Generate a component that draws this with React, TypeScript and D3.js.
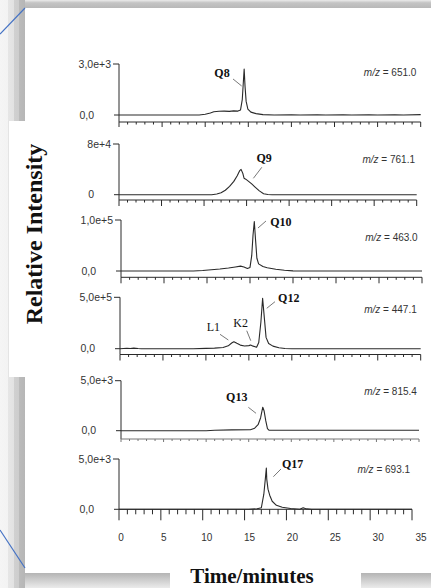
import React from "react";
import * as d3 from "d3";

// chromatogram traces: [time (min), intensity]
const q8Trace = [
  [0, 0], [9.3, 0], [10.0, 40], [10.6, 120], [11.0, 190], [11.6, 220], [12.2, 230], [12.8, 215],
  [13.3, 240], [13.8, 230], [14.1, 300], [14.3, 900], [14.42, 1900], [14.52, 2700], [14.62, 1700],
  [14.75, 800], [14.95, 350], [15.3, 170], [15.9, 80], [16.7, 20], [18, 0], [20, 15], [21, 0],
  [23, 15], [24, 0], [26, 15], [27, 0], [29, 15], [30, 0], [32, 15], [33, 0], [35, 20],
];
const q9Trace = [
  [0, 0], [10.9, 0], [11.5, 1000], [12.0, 3000], [12.5, 7000], [13.0, 13000], [13.5, 21000],
  [13.9, 30000], [14.2, 38000], [14.35, 40000], [14.55, 34000], [14.7, 26000], [14.9, 24500],
  [15.2, 21500], [15.6, 17000], [16.0, 12000], [16.5, 6000], [17.0, 1500], [17.5, 300], [18, 0], [35, 0],
];
const q10Trace = [
  [0, 0], [8.4, 0], [9.5, 1000], [10.5, 2500], [11.5, 4000], [12.5, 6000], [13.3, 8000],
  [13.9, 9500], [14.3, 8000], [14.7, 5000], [15.0, 7000], [15.2, 30000], [15.35, 70000],
  [15.5, 97000], [15.65, 60000], [15.8, 25000], [16.0, 14000], [16.5, 9000], [17.0, 6500],
  [18.0, 3500], [19.0, 1500], [20.0, 300], [21, 0], [35, 0],
];
const q12Trace = [
  [0, 0], [0.8, 5000], [1.2, 2000], [1.6, 6000], [2.1, 2000], [2.5, 0], [8.5, 0], [10, 3000],
  [11, 6000], [12, 12000], [12.6, 28000], [13.0, 55000], [13.25, 68000], [13.6, 52000],
  [14.0, 35000], [14.5, 26000], [15.0, 30000], [15.2, 36000], [15.5, 25000], [15.9, 15000],
  [16.15, 60000], [16.4, 260000], [16.6, 490000], [16.8, 300000], [17.0, 110000], [17.3, 50000],
  [17.8, 25000], [18.5, 10000], [19.2, 2000], [20, 0], [35, 0],
];
const q13Trace = [
  [0, 0], [10, 0], [11, 50], [13, 80], [15.2, 100], [15.7, 250], [16.1, 600], [16.4, 1300],
  [16.65, 2350], [16.8, 2000], [17.0, 1000], [17.2, 200], [17.4, 40], [35, 40],
];
const q17Trace = [
  [0, 0], [15.5, 0], [16.5, 50], [17.0, 150], [17.3, 1500], [17.5, 3200], [17.6, 4100],
  [17.65, 3000], [17.8, 2000], [18.0, 1400], [18.3, 800], [18.8, 400], [19.5, 200], [20.5, 80],
  [21.6, 0], [22.0, 150], [22.4, 40], [23, 0], [35, 0],
];

const traces = [q8Trace, q9Trace, q10Trace, q12Trace, q13Trace, q17Trace];
const yMaxes = [3000, 80000, 100000, 500000, 5000, 5000];
const topLabels = ["3,0e+3", "8e+4", "1,0e+5", "5,0e+5", "5,0e+3", "5,0e+3"];
const zeroLabels = ["0,0", "0", "0,0", "0,0", "0,0", "0,0"];
const mzValues = ["651.0", "761.1", "463.0", "447.1", "815.4", "693.1"];
// label anchor in data units: [time, intensity]
const mzAnchors = [[34.5, 2294], [34.8, 50020], [34.5, 58820], [34.54, 347280], [34.75, 3570], [34.77, 3560]];

// peak annotations: text, position, leader line start/end (data units)
const peakNotes = [
  [{ text: "Q8", bold: true, at: [11.95, 2235], from: [13.23, 2118], to: [14.23, 1706] }],
  [{ text: "Q9", bold: true, at: [17.06, 51600], from: [16.79, 43230], to: [15.8, 25880] }],
  [{ text: "Q10", bold: true, at: [18.6, 88240], from: [16.86, 98040], to: [15.93, 84310] }],
  [
    { text: "L1", bold: false, at: [10.86, 172200], from: [11.64, 140080], to: [12.61, 84630] },
    { text: "K2", bold: false, at: [14.05, 211090], from: [14.75, 175100], to: [15.22, 77820] },
    { text: "Q12", bold: true, at: [19.64, 459140], from: [18.04, 457200], to: [17.08, 393000] },
  ],
  [{ text: "Q13", bold: true, at: [13.6, 2970], from: [14.96, 2340], to: [15.86, 1740] }],
  [{ text: "Q17", bold: true, at: [20.75, 4155], from: [18.44, 3240], to: [19.35, 4006] }],
];

const timeTicks = [0, 5, 10, 15, 20, 25, 30, 35];

// pasted panels, each with its own placement
const boxes = [
  { top: 64, zero: 115, axis: 122, x0: 119, x1: 420.7, major: 5, minor: 2.5 },
  { top: 144, zero: 194.7, axis: 200, x0: 119, x1: 416.7, major: 6, minor: 2.5 },
  { top: 220, zero: 271, axis: 277.3, x0: 121, x1: 422, major: 6, minor: 2.5 },
  { top: 297.3, zero: 348.7, axis: 354.5, x0: 120, x1: 420.7, major: 6, minor: 2.5 },
  { top: 380.7, zero: 430.7, axis: 439, x0: 121, x1: 419, major: 3, minor: 2 },
  { top: 459, zero: 509.3, axis: 509.3, x0: 119, x1: 412, major: 11, minor: 5 },
];

const sans = "'Liberation Sans', Arial, sans-serif";
const serif = "'Liberation Serif', 'Times New Roman', serif";
const ink = "#2a2a2a";

function Panel({ i }: { i: number }) {
  const b = boxes[i];
  const x = d3.scaleLinear().domain([0, 35]).range([b.x0, b.x1]);
  const y = d3.scaleLinear().domain([0, yMaxes[i]]).range([b.zero, b.top]);
  const line = d3.line<number[]>().x((d) => x(d[0])).y((d) => y(d[1]));
  const minutes = d3.range(0, 36);
  const axisColor = i === 4 ? "#777" : ink;
  return (
    <g>
      <line x1={b.x0} x2={b.x0} y1={b.top} y2={b.axis} stroke={ink} />
      <line x1={b.x0 - 6} x2={b.x0} y1={b.top} y2={b.top} stroke={ink} />
      <line x1={b.x0 - 5} x2={b.x0} y1={b.zero} y2={b.zero} stroke={ink} />
      <line x1={b.x0} x2={b.x1} y1={b.axis} y2={b.axis} stroke={axisColor} />
      {minutes.map((t) => (
        <line key={t} x1={x(t)} x2={x(t)} y1={b.axis} y2={b.axis + (t % 5 === 0 ? b.major : b.minor)} stroke={axisColor} />
      ))}
      <text x={b.x0 - 8} y={b.top + 3.5} textAnchor="end" fontFamily={sans} fontSize={10.5} fill="#333">{topLabels[i]}</text>
      <text x={b.x0 - 25} y={b.zero + 3.5} textAnchor="end" fontFamily={sans} fontSize={10.5} fill="#333">{zeroLabels[i]}</text>
      <path d={line(traces[i]) || ""} fill="none" stroke={ink} strokeWidth={1.1} strokeLinejoin="round" />
      <text x={x(mzAnchors[i][0])} y={y(mzAnchors[i][1])} textAnchor="end" fontFamily={sans} fontSize={10} fill="#333">
        <tspan fontStyle="italic">m/z</tspan> = {mzValues[i]}
      </text>
      {peakNotes[i].map((n) => (
        <g key={n.text}>
          <line x1={x(n.from[0])} y1={y(n.from[1])} x2={x(n.to[0])} y2={y(n.to[1])} stroke="#555" strokeWidth={0.8} />
          <text x={x(n.at[0])} y={y(n.at[1])} textAnchor="middle" fontFamily={serif} fontSize={12}
            fontWeight={n.bold ? "bold" : "normal"} fill="#111">{n.text}</text>
        </g>
      ))}
    </g>
  );
}

export default function App() {
  const lb = boxes[5];
  const labelX = d3.scaleLinear().domain([0, 35]).range([121, 421]);
  return (
    <svg width={431} height={588} style={{ position: "absolute", left: 0, top: 0 }}>
      <defs>
        <linearGradient id="topShade" x1="0" y1="0" x2="0" y2="1">
          <stop offset="0" stopColor="#ebebeb" />
          <stop offset="0.35" stopColor="#c4c4c4" />
          <stop offset="1" stopColor="#b8b8b8" />
        </linearGradient>
        <linearGradient id="leftShade" x1="0" y1="0" x2="1" y2="0">
          <stop offset="0" stopColor="#f5f5f5" />
          <stop offset="0.32" stopColor="#f3f3f3" />
          <stop offset="0.33" stopColor="#e6e6e6" />
          <stop offset="0.56" stopColor="#e2e2e2" />
          <stop offset="0.57" stopColor="#d0d0d0" />
          <stop offset="0.76" stopColor="#cdcdcd" />
          <stop offset="0.77" stopColor="#bbbbbb" />
          <stop offset="1" stopColor="#b6b6b6" />
        </linearGradient>
        <linearGradient id="bottomShade" x1="0" y1="0" x2="0" y2="1">
          <stop offset="0" stopColor="#b4b4b4" />
          <stop offset="0.4" stopColor="#cacaca" />
          <stop offset="1" stopColor="#ebebeb" />
        </linearGradient>
      </defs>
      <rect width={431} height={588} fill="#fff" />
      <rect x={0} y={0} width={431} height={8} fill="url(#topShade)" />
      <rect x={0} y={0} width={25} height={588} fill="url(#leftShade)" />
      <rect x={25} y={573} width={145} height={15} fill="url(#bottomShade)" />
      <rect x={361} y={573} width={70} height={15} fill="url(#bottomShade)" />
      <rect x={8} y={121} width={60} height={256} fill="#fff" />
      <line x1={8.5} x2={8.5} y1={121} y2={377} stroke="#e4e4e4" />
      <rect x={170} y={560} width={191} height={28} fill="#fff" />
      <line x1={0} y1={34} x2={25} y2={8} stroke="#4472c4" strokeWidth={1.2} />
      <line x1={0} y1={530} x2={25} y2={568} stroke="#4472c4" strokeWidth={1.2} />

      {boxes.map((_, i) => <Panel key={i} i={i} />)}

      {timeTicks.map((t) => (
        <text key={t} x={labelX(t)} y={lb.axis + 31.5} textAnchor="middle" fontFamily={sans} fontSize={10} fill="#333">{t}</text>
      ))}

      <text x={252} y={583} textAnchor="middle" fontFamily={serif} fontWeight="bold" fontSize={21} fill="#111">Time/minutes</text>
      <text transform="translate(42,234) rotate(-90)" textAnchor="middle" fontFamily={serif} fontWeight="bold" fontSize={24} fill="#111">Relative Intensity</text>
    </svg>
  );
}
